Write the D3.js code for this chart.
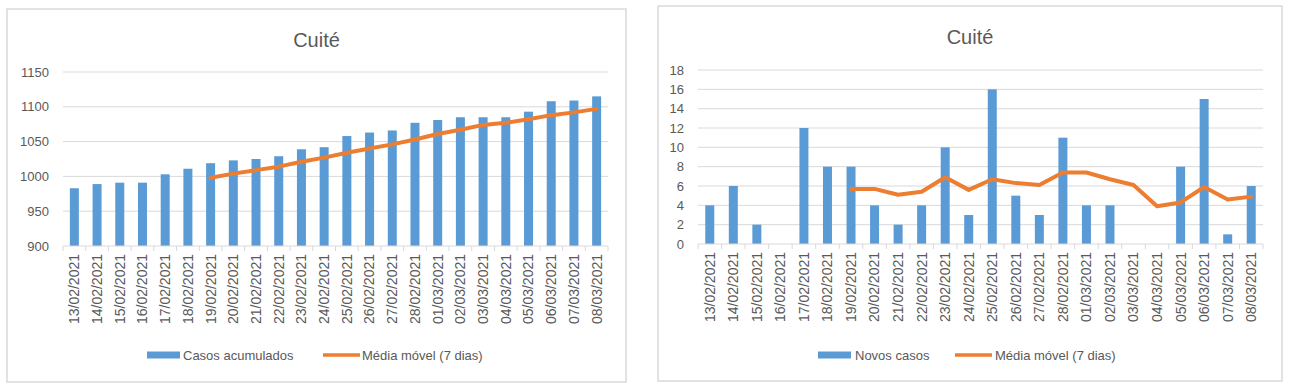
<!DOCTYPE html>
<html>
<head>
<meta charset="utf-8">
<script src="https://cdn.jsdelivr.net/npm/d3@7"></script>
<style>
  body { margin: 0; background: #fff; }
  text { font-family: "Liberation Sans", Arial, sans-serif; fill: #595959; }
</style>
</head>
<body>
<div id="graph"></div>
<script>
var w = 1289, h = 390

var dates = ['13/02/2021','14/02/2021','15/02/2021','16/02/2021','17/02/2021','18/02/2021',
  '19/02/2021','20/02/2021','21/02/2021','22/02/2021','23/02/2021','24/02/2021','25/02/2021',
  '26/02/2021','27/02/2021','28/02/2021','01/03/2021','02/03/2021','03/03/2021','04/03/2021',
  '05/03/2021','06/03/2021','07/03/2021','08/03/2021']

var acumulados = [983, 989, 991, 991, 1003, 1011, 1019, 1023, 1025, 1029, 1039, 1042, 1058,
  1063, 1066, 1077, 1081, 1085, 1085, 1085, 1093, 1108, 1109, 1115]
var mediaAcum = [null, null, null, null, null, null, 998, 1004, 1009, 1014, 1021, 1027, 1034,
  1040, 1046, 1053, 1061, 1067, 1074, 1077, 1082, 1088, 1092, 1097]

var novos = [4, 6, 2, 0, 12, 8, 8, 4, 2, 4, 10, 3, 16, 5, 3, 11, 4, 4, 0, 0, 8, 15, 1, 6]
var mediaNovos = [null, null, null, null, null, null, 5.7, 5.7, 5.1, 5.4, 6.9, 5.6, 6.7,
  6.3, 6.1, 7.4, 7.4, 6.7, 6.1, 3.9, 4.3, 5.9, 4.6, 4.9]

var ticksAcum = [900, 950, 1000, 1050, 1100, 1150]
var ticksNovos = [0, 2, 4, 6, 8, 10, 12, 14, 16, 18]

var blue = '#5b9bd5', orange = '#ed7d31', grid = '#d9d9d9'

var svg = d3.select('#graph')
  .append('svg')
  .attr('width', w)
  .attr('height', h)

var panels = [
  {box: [7, 9, 626, 382], plot: [63, 72, 608, 246], domain: [900, 1150], ticks: ticksAcum,
   bars: acumulados, line: mediaAcum, labelBar: 'Casos acumulados',
   legend: {swatch: 147, text: 183, line: 323, text2: 362}},
  {box: [658, 6, 1282, 381], plot: [698, 70, 1263, 244], domain: [0, 18], ticks: ticksNovos,
   bars: novos, line: mediaNovos, labelBar: 'Novos casos',
   legend: {swatch: 818, text: 855, line: 955, text2: 995}}
]

panels.forEach(function(p) {
  var g = svg.append('g')

  g.append('rect')
    .attr('x', p.box[0]).attr('y', p.box[1])
    .attr('width', p.box[2] - p.box[0]).attr('height', p.box[3] - p.box[1])
    .attr('fill', '#fff').attr('stroke', grid).attr('stroke-width', 1.5)

  var xs = d3.scaleBand().domain(dates).range([p.plot[0], p.plot[2]])
  var y = d3.scaleLinear().domain(p.domain).range([p.plot[3], p.plot[1]])

  g.append('text')
    .attr('x', (p.box[0] + p.box[2]) / 2)
    .attr('y', p.box[1] + 38)
    .attr('text-anchor', 'middle')
    .style('font-size', '20px')
    .text('Cuité')

  // grid lines
  g.selectAll('.grid')
    .data(p.ticks.slice(1))
    .enter().append('line')
    .attr('x1', p.plot[0]).attr('x2', p.plot[2])
    .attr('y1', d => y(d)).attr('y2', d => y(d))
    .attr('stroke', grid).attr('stroke-width', 1)

  // y labels
  g.selectAll('.ylab')
    .data(p.ticks)
    .enter().append('text')
    .attr('x', p.plot[0] - 14)
    .attr('y', d => y(d))
    .attr('dy', '0.35em')
    .attr('text-anchor', 'end')
    .style('font-size', '13px')
    .text(d => d)

  // bars
  g.selectAll('.bar')
    .data(p.bars)
    .enter().append('rect')
    .attr('x', (d, i) => xs(dates[i]) + xs.bandwidth() / 2 - 4.5)
    .attr('width', 9)
    .attr('y', d => y(d))
    .attr('height', d => y(p.domain[0]) - y(d))
    .attr('fill', blue)

  // x axis
  g.append('line')
    .attr('x1', p.plot[0]).attr('x2', p.plot[2])
    .attr('y1', p.plot[3]).attr('y2', p.plot[3])
    .attr('stroke', grid).attr('stroke-width', 1)

  g.selectAll('.xtick')
    .data(dates.concat(['end']))
    .enter().append('line')
    .attr('x1', (d, i) => p.plot[0] + i * xs.step())
    .attr('x2', (d, i) => p.plot[0] + i * xs.step())
    .attr('y1', p.plot[3]).attr('y2', p.plot[3] + 5)
    .attr('stroke', grid)

  g.selectAll('.xlab')
    .data(dates)
    .enter().append('text')
    .attr('transform', d => 'translate(' + (xs(d) + xs.bandwidth() / 2) + ',' + (p.plot[3] + 8) + ') rotate(-90)')
    .attr('dy', '0.35em')
    .attr('text-anchor', 'end')
    .style('font-size', '14px')
    .text(d => d)

  // moving average
  var line = d3.line()
    .defined(d => d != null)
    .x((d, i) => xs(dates[i]) + xs.bandwidth() / 2)
    .y(d => y(d))

  g.append('path')
    .datum(p.line)
    .attr('d', line)
    .attr('fill', 'none')
    .attr('stroke', orange)
    .attr('stroke-width', 4)
    .attr('stroke-linejoin', 'round')
    .attr('stroke-linecap', 'round')

  // legend
  var ly = 355
  g.append('rect')
    .attr('x', p.legend.swatch).attr('y', ly - 3.5)
    .attr('width', 33).attr('height', 7)
    .attr('fill', blue)
  g.append('text')
    .attr('x', p.legend.text).attr('y', ly).attr('dy', '0.35em')
    .style('font-size', '13px')
    .text(p.labelBar)
  g.append('line')
    .attr('x1', p.legend.line).attr('x2', p.legend.line + 37)
    .attr('y1', ly).attr('y2', ly)
    .attr('stroke', orange).attr('stroke-width', 3.5)
  g.append('text')
    .attr('x', p.legend.text2).attr('y', ly).attr('dy', '0.35em')
    .style('font-size', '13px')
    .text('Média móvel (7 dias)')
})
</script>
</body>
</html>
